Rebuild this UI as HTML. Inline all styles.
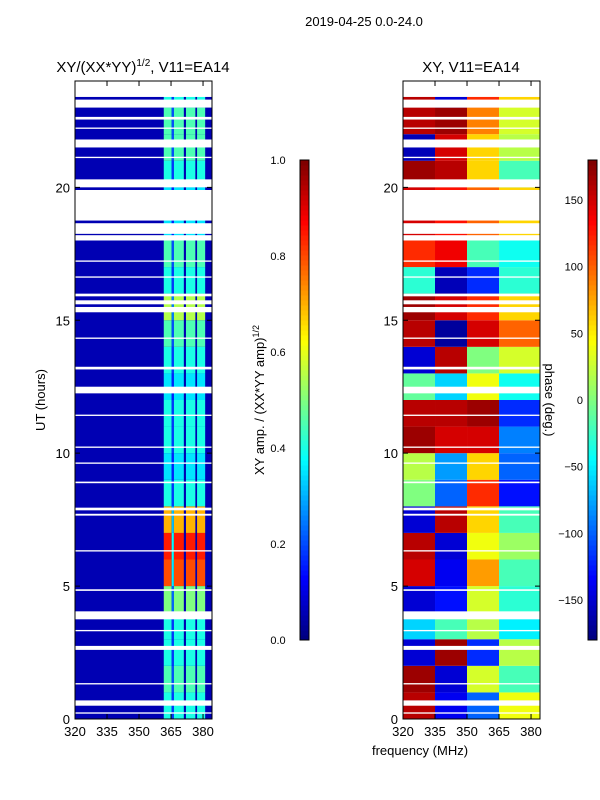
<!DOCTYPE html>
<html><head><meta charset="utf-8"><style>
body{margin:0;background:#fff;}
svg{display:block;font-family:"Liberation Sans","DejaVu Sans",sans-serif;}
</style></head><body>
<svg id="fig" width="600" height="800" viewBox="0 0 600 800">
<text x="364" y="26" font-size="13" text-anchor="middle">2019-04-25 0.0-24.0</text>
<text x="143" y="72" font-size="15" text-anchor="middle">XY/(XX*YY)<tspan font-size="10" dy="-6">1/2</tspan><tspan dy="6">, V11=EA14</tspan></text>
<text x="471" y="72" font-size="15" text-anchor="middle">XY, V11=EA14</text>
<text transform="translate(45,400) rotate(-90)" font-size="13" text-anchor="middle">UT (hours)</text>
<text transform="translate(264,400) rotate(-90)" font-size="13" text-anchor="middle">XY amp. / (XX*YY amp)<tspan font-size="9" dy="-5">1/2</tspan></text>
<text transform="translate(545,400) rotate(90)" font-size="13" text-anchor="middle">phase (deg.)</text>
<text x="420" y="755" font-size="13" text-anchor="middle">frequency (MHz)</text>
<g id="left"></g>
<g id="right"></g>
<g id="cbars"></g>
<g id="axes"></g>
</svg>
<script>
// ---- data ----
const hourRows = [0,1,2,3,4,5,6,7,8,9,10,11,12,13,14,15,16,17,18,19,20,21,22,23];
const ampBand = [0.4,0.45,0.4,0.4,0.5,0.8,0.85,0.7,0.4,0.35,0.4,0.4,0.35,0.4,0.45,0.55,0.4,0.45,0.35,0.35,0.4,0.45,0.45,0.4];
const ampBase = 0.05;
const subbands = [[361.6,365.3],[366.3,371],[372,376.4],[377.2,381]];
const phaseCols = [[320,335],[335,350],[350,365],[365,384.2]];
const phase = [
[160,-140,-100,40],[170,-150,30,-20],[-150,170,-120,20],[-60,-20,20,-50],
[-150,-130,30,-30],[150,-140,80,-20],[160,-150,40,10],[-150,160,60,-20],
[0,-100,120,-130],[20,-80,60,-100],[170,150,150,-90],[160,160,170,-120],
[-10,-60,40,-40],[-150,160,0,30],[160,-170,150,100],[170,150,120,60],
[-30,-160,-120,-30],[120,140,-20,-40],[150,130,100,60],[150,130,100,60],
[170,160,60,-20],[-160,150,60,20],[160,170,90,30],[160,-150,120,60]];
const flagged = [[23.4,24],[23.0,23.3],[22.55,22.65],[21.5,21.8],[20.0,20.3],[18.75,19.9],[18.25,18.65],[18.0,18.2],[15.9,16.0],[15.6,15.75],[15.3,15.5],[13.15,13.25],[12.25,12.5],[8.87,8.93],[7.85,7.95],[7.65,7.72],[4.82,4.88],[3.75,4.05],[2.6,2.75],[0.5,0.7],[23.15,23.2],[22.2,22.25],[21.1,21.15],[17.2,17.25],[16.6,16.65],[14.3,14.35],[11.4,11.45],[10.2,10.25],[9.6,9.65],[6.3,6.35],[3.3,3.35],[1.3,1.35],[0.2,0.25]];
const xTicks = [320,335,350,365,380];
const yTicks = [0,5,10,15,20];
const ampTicks = [0.0,0.2,0.4,0.6,0.8,1.0];
const phaseTicks = [-150,-100,-50,0,50,100,150];
// ---- scales ----
const NS='http://www.w3.org/2000/svg';
const panels={left:75,right:403}, PW=137, TOP=81, BOT=719;
const fx=(x0,f)=>x0+(f-320)/(384.2-320)*PW;
const fy=t=>BOT-(t/24)*(BOT-TOP);
function jet(v){v=Math.max(0,Math.min(1,v));
 const r=Math.max(0,Math.min(1,1.5-Math.abs(4*v-3))),g=Math.max(0,Math.min(1,1.5-Math.abs(4*v-2))),b=Math.max(0,Math.min(1,1.5-Math.abs(4*v-1)));
 return `rgb(${Math.round(r*255)},${Math.round(g*255)},${Math.round(b*255)})`;}
function rect(p,x,y,w,h,fill){const r=document.createElementNS(NS,'rect');
 r.setAttribute('x',x);r.setAttribute('y',y);r.setAttribute('width',w);r.setAttribute('height',h);r.setAttribute('fill',fill);
 
 
 p.appendChild(r);return r;}
function txt(p,x,y,s,anchor,size){const t=document.createElementNS(NS,'text');
 t.setAttribute('x',x);t.setAttribute('y',y);t.setAttribute('font-size',size||12);t.setAttribute('text-anchor',anchor);t.textContent=s;
 
 
 p.appendChild(t);}
const L=document.getElementById('left'),R=document.getElementById('right'),C=document.getElementById('cbars'),A=document.getElementById('axes');
rect(L,panels.left,TOP,PW,BOT-TOP,jet(ampBase));
hourRows.forEach((h,i)=>{const y1=fy(h+1),y2=fy(h);
 subbands.forEach(([a,b])=>{rect(L,fx(panels.left,a),y1,fx(panels.left,b)-fx(panels.left,a),y2-y1,jet(ampBand[i]));});
 rect(L,fx(panels.left,365.3),y1,fx(panels.left,366.3)-fx(panels.left,365.3),y2-y1,jet(ampBand[i]*0.45));
});
hourRows.forEach((h,i)=>{const y1=fy(h+1),y2=fy(h);
 phaseCols.forEach(([a,b],j)=>{rect(R,fx(panels.right,a),y1,fx(panels.right,b)-fx(panels.right,a),y2-y1,jet((phase[i][j]+180)/360));});
});
flagged.forEach(([a,b])=>{[panels.left,panels.right].forEach(x0=>{rect(x0===panels.left?L:R,x0,fy(b),PW,fy(a)-fy(b),'#fff');});});
[panels.left,panels.right].forEach(x0=>{
 const f=document.createElementNS(NS,'rect');f.setAttribute('x',x0);f.setAttribute('y',TOP);f.setAttribute('width',PW);f.setAttribute('height',BOT-TOP);
 f.setAttribute('fill','none');f.setAttribute('stroke','#000');f.setAttribute('stroke-width','1');
 
 
 A.appendChild(f);
 xTicks.forEach(v=>{txt(A,fx(x0,v),736,String(v),'middle',13);
  const l=document.createElementNS(NS,'path');const x=fx(x0,v);l.setAttribute('d',`M${x},${BOT}v-5M${x},${TOP}v5`);l.setAttribute('stroke','#000');
  
  
  A.appendChild(l);});
 yTicks.forEach(v=>{txt(A,x0-5,fy(v)+5,String(v),'end',13);
  const l=document.createElementNS(NS,'path');const y=fy(v);l.setAttribute('d',`M${x0},${y}h5M${x0+PW},${y}h-5`);l.setAttribute('stroke','#000');
  
  
  A.appendChild(l);});
});
const CB_T=160,CB_B=640;
[[300,'amp'],[588,'phase']].forEach(([x,k])=>{
 for(let i=0;i<96;i++){const v=i/95;rect(C,x,CB_B-(i+1)*(CB_B-CB_T)/96,9,(CB_B-CB_T)/96+0.5,jet(v));}
 const f=document.createElementNS(NS,'rect');f.setAttribute('x',x);f.setAttribute('y',CB_T);f.setAttribute('width',9);f.setAttribute('height',CB_B-CB_T);
 f.setAttribute('fill','none');f.setAttribute('stroke','#000');
 
 
 C.appendChild(f);
});
ampTicks.forEach(v=>{const y=CB_B-v*(CB_B-CB_T);txt(C,278,y+4,v.toFixed(1),'middle',11);});
phaseTicks.forEach(v=>{const y=CB_B-(v+180)/360*(CB_B-CB_T);txt(C,583,y+4,v<0?'\u2212'+(-v):String(v),'end',11);});
</script>
</body></html>
